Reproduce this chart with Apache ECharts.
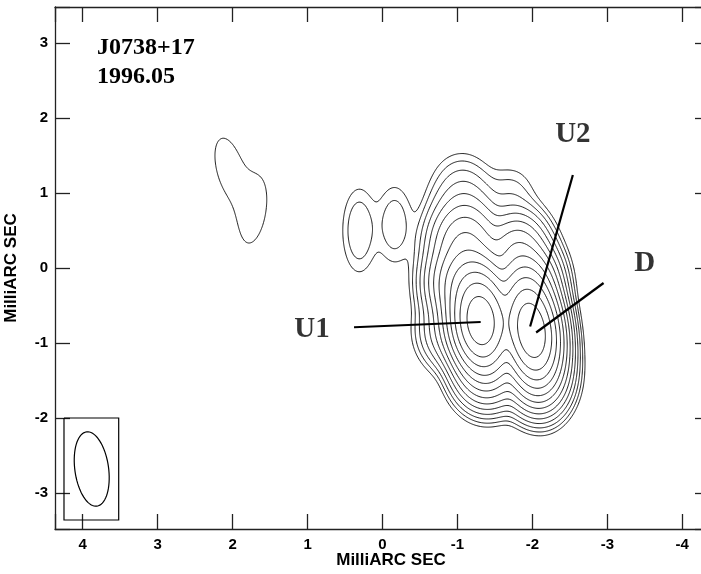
<!DOCTYPE html>
<html>
<head>
<meta charset="utf-8">
<script src="https://cdn.jsdelivr.net/npm/echarts@6/dist/echarts.min.js"></script>
<style>
  html, body { margin: 0; padding: 0; background: #fff; }
  #map { width: 701px; height: 574px; }
</style>
</head>
<body>
<div id="map"></div>
<script>
// axis extent in mas, RA grows to the left
const xRange = [-4.37, 4.37];
const yRange = [-3.48, 3.48];

// contour levels (relative units, doubling)
const levels = [1, 2, 4, 8, 16, 32, 64, 128, 256, 512, 1024, 2048, 4096];

// gaussian components: centre (mas), peak, fwhm major/minor (mas), PA (deg)
const compName = ['U1', 'D', 'N1', 'N2', 'N3', 'N4', 'M1', 'M2', 'M3', 'M4', 'S1', 'S2', 'E1', 'P1', 'P2', 'B1', 'B2'];
const compX    = [-1.31, -1.99, -1.14, -1.10, -1.08, -1.05, -1.92, -1.80, -1.74, -1.70, -1.40, -2.06, -0.98, 0.31, -0.16, 2.04, 1.71];
const compY    = [-0.71, -0.84, -0.20, 0.35, 0.85, 1.25, -0.25, 0.25, 0.72, 1.05, -1.35, -1.45, -0.85, 0.50, 0.58, 1.32, 0.76];
const compPeak = [7000, 7500, 500, 120, 12, 1.5, 450, 100, 3, 1.5, 160, 130, 50, 3.7, 3.3, 1.5, 1.45];
const compMaj  = [0.70, 0.75, 0.60, 0.60, 0.60, 0.50, 0.60, 0.55, 0.60, 0.50, 0.565, 0.565, 0.55, 0.80, 0.75, 1.10, 1.00];
const compMin  = [0.40, 0.38, 0.52, 0.52, 0.52, 0.50, 0.44, 0.45, 0.42, 0.45, 0.47, 0.45, 0.50, 0.32, 0.34, 0.45, 0.36];
const compPa   = [5, 8, 0, 0, 0, 0, 0, 0, 0, 0, 0, 0, 0, 0, 0, 14, -10];

// restoring beam in the lower-left corner
const beamCentre = [3.88, -2.68];
const beamFwhm = [1.0, 0.45];
const beamPa = 8;
const beamBoxX = [4.25, 3.52];
const beamBoxY = [-2.0, -3.36];

// component labels and pointer lines
const labelText = ['U1', 'U2', 'D'];
const labelX = [0.94, -2.54, -3.50];
const labelY = [-0.82, 1.78, 0.06];
const pointerFrom = [[0.38, -0.79], [-2.54, 1.24], [-2.95, -0.20]];
const pointerTo = [[-1.31, -0.72], [-1.97, -0.78], [-2.05, -0.86]];

// ---- brightness grid from the components ----
const step = 0.0125;
const gx0 = -3.4, gx1 = 3.0, gy0 = -3.0, gy1 = 2.4;
const nx = Math.round((gx1 - gx0) / step) + 1;
const ny = Math.round((gy1 - gy0) / step) + 1;
const grid = new Float64Array(nx * ny);
const k4 = 4 * Math.LN2;
compX.forEach((cx, c) => {
  const pa = compPa[c] * Math.PI / 180;
  const s = Math.sin(pa), co = Math.cos(pa);
  const a = k4 / (compMaj[c] * compMaj[c]);
  const b = k4 / (compMin[c] * compMin[c]);
  for (let j = 0; j < ny; j++) {
    const dy = gy0 + j * step - compY[c];
    for (let i = 0; i < nx; i++) {
      const dx = gx0 + i * step - cx;
      const u = dx * s + dy * co;
      const v = dx * co - dy * s;
      const e = a * u * u + b * v * v;
      if (e < 40) grid[j * nx + i] += compPeak[c] * Math.exp(-e);
    }
  }
});

// marching squares, stitched into polylines
function contourPaths(level) {
  const segA = [], segB = [], pos = new Map();
  const edgePoint = (key, i0, j0, i1, j1) => {
    if (!pos.has(key)) {
      const v0 = grid[j0 * nx + i0], v1 = grid[j1 * nx + i1];
      const t = (level - v0) / (v1 - v0);
      pos.set(key, [gx0 + (i0 + t * (i1 - i0)) * step, gy0 + (j0 + t * (j1 - j0)) * step]);
    }
    return key;
  };
  const table = {
    1: [[3, 0]], 2: [[0, 1]], 3: [[3, 1]], 4: [[1, 2]], 6: [[0, 2]], 7: [[2, 3]], 8: [[2, 3]],
    9: [[0, 2]], 11: [[1, 2]], 12: [[3, 1]], 13: [[0, 1]], 14: [[3, 0]]
  };
  for (let j = 0; j < ny - 1; j++) {
    for (let i = 0; i < nx - 1; i++) {
      const va = grid[j * nx + i], vb = grid[j * nx + i + 1];
      const vc = grid[(j + 1) * nx + i + 1], vd = grid[(j + 1) * nx + i];
      const code = (va >= level ? 1 : 0) | (vb >= level ? 2 : 0) | (vc >= level ? 4 : 0) | (vd >= level ? 8 : 0);
      if (code === 0 || code === 15) continue;
      let pairs = table[code];
      if (code === 5 || code === 10) {
        const mid = (va + vb + vc + vd) / 4 >= level;
        if ((code === 5) === mid) pairs = [[0, 1], [2, 3]];
        else pairs = [[3, 0], [1, 2]];
      }
      const edges = [
        () => edgePoint(2 * (j * nx + i), i, j, i + 1, j),
        () => edgePoint(2 * (j * nx + i + 1) + 1, i + 1, j, i + 1, j + 1),
        () => edgePoint(2 * ((j + 1) * nx + i), i, j + 1, i + 1, j + 1),
        () => edgePoint(2 * (j * nx + i) + 1, i, j, i, j + 1)
      ];
      pairs.forEach(p => { segA.push(edges[p[0]]()); segB.push(edges[p[1]]()); });
    }
  }
  const adj = new Map();
  const add = (k, sIdx) => { const l = adj.get(k); if (l) l.push(sIdx); else adj.set(k, [sIdx]); };
  segA.forEach((k, sIdx) => { add(k, sIdx); add(segB[sIdx], sIdx); });
  const used = new Uint8Array(segA.length);
  const paths = [];
  for (let s0 = 0; s0 < segA.length; s0++) {
    if (used[s0]) continue;
    used[s0] = 1;
    const path = [segA[s0], segB[s0]];
    for (let dir = 0; dir < 2; dir++) {
      let end = dir === 0 ? path[path.length - 1] : path[0];
      for (;;) {
        const next = adj.get(end).find(q => !used[q]);
        if (next === undefined) break;
        used[next] = 1;
        const other = segA[next] === end ? segB[next] : segA[next];
        if (dir === 0) path.push(other); else path.unshift(other);
        end = other;
      }
    }
    paths.push(path.map(k => pos.get(k)));
  }
  return paths;
}

const contourData = [];
levels.forEach(lv => contourPaths(lv).forEach(p => contourData.push({ coords: p })));

// beam ellipse and its box
const beamPts = [];
const bpa = beamPa * Math.PI / 180;
for (let t = 0; t <= 72; t++) {
  const ang = t / 72 * 2 * Math.PI;
  const u = beamFwhm[0] / 2 * Math.cos(ang), v = beamFwhm[1] / 2 * Math.sin(ang);
  beamPts.push([beamCentre[0] + u * Math.sin(bpa) + v * Math.cos(bpa), beamCentre[1] + u * Math.cos(bpa) - v * Math.sin(bpa)]);
}
const boxPts = [
  [beamBoxX[0], beamBoxY[0]], [beamBoxX[1], beamBoxY[0]], [beamBoxX[1], beamBoxY[1]],
  [beamBoxX[0], beamBoxY[1]], [beamBoxX[0], beamBoxY[0]]
];

const chart = echarts.init(document.getElementById('map'));
const frame = { color: '#222', width: 1.3 };
const tickFmt = v => (Number.isInteger(v) ? String(v) : '');
const tickFont = { fontFamily: 'Liberation Sans', fontWeight: 'bold', fontSize: 15, color: '#000' };

chart.setOption({
  animation: false,
  backgroundColor: '#fff',
  grid: { left: 55, top: 7, width: 655, height: 522, outerBoundsMode: 'none' },
  xAxis: [
    {
      type: 'value', min: xRange[0], max: xRange[1], inverse: true, minInterval: 1, maxInterval: 1,
      position: 'bottom',
      axisLine: { onZero: false, lineStyle: frame },
      axisTick: { inside: true, length: 15, lineStyle: frame },
      axisLabel: { ...tickFont, margin: 8, formatter: tickFmt },
      splitLine: { show: false }
    },
    {
      type: 'value', min: xRange[0], max: xRange[1], inverse: true, minInterval: 1, maxInterval: 1,
      position: 'top',
      axisLine: { onZero: false, lineStyle: frame },
      axisTick: { inside: true, length: 15, lineStyle: frame },
      axisLabel: { show: false },
      splitLine: { show: false }
    }
  ],
  yAxis: [
    {
      type: 'value', min: yRange[0], max: yRange[1], minInterval: 1, maxInterval: 1,
      position: 'left',
      axisLine: { onZero: false, lineStyle: frame },
      axisTick: { inside: true, length: 15, lineStyle: frame },
      axisLabel: { ...tickFont, margin: 7, formatter: tickFmt },
      splitLine: { show: false }
    },
    {
      type: 'value', min: yRange[0], max: yRange[1], minInterval: 1, maxInterval: 1,
      position: 'right',
      axisLine: { show: false, onZero: false, lineStyle: frame },
      axisTick: { inside: true, length: 15, lineStyle: frame },
      axisLabel: { show: false },
      splitLine: { show: false }
    }
  ],
  graphic: [
    { type: 'text', left: 97, top: 36, style: { text: 'J0738+17', font: 'bold 24px "Liberation Serif"', fill: '#000' } },
    { type: 'text', left: 97, top: 65, style: { text: '1996.05', font: 'bold 24px "Liberation Serif"', fill: '#000' } },
    { type: 'text', x: 391, y: 560, style: { text: 'MilliARC SEC', font: 'bold 17px "Liberation Sans"', fill: '#000', align: 'center', verticalAlign: 'middle' } },
    { type: 'text', x: 11, y: 268, rotation: Math.PI / 2, style: { text: 'MilliARC SEC', font: 'bold 17px "Liberation Sans"', fill: '#000', align: 'center', verticalAlign: 'middle' } }
  ],
  series: [
    {
      type: 'lines', coordinateSystem: 'cartesian2d', polyline: true, silent: true, large: false,
      lineStyle: { color: '#000', width: 0.9, opacity: 1 },
      data: contourData
    },
    {
      type: 'lines', coordinateSystem: 'cartesian2d', polyline: true, silent: true,
      lineStyle: { color: '#000', width: 1.2, opacity: 1 },
      data: [{ coords: beamPts }, { coords: boxPts }]
    },
    {
      type: 'lines', coordinateSystem: 'cartesian2d', silent: true,
      lineStyle: { color: '#000', width: 2.2, opacity: 1 },
      data: pointerFrom.map((f, i) => ({ coords: [f, pointerTo[i]] }))
    },
    {
      type: 'scatter', silent: true, symbolSize: 0,
      data: labelX.map((x, i) => [x, labelY[i]]),
      label: {
        show: true, position: 'inside', formatter: p => labelText[p.dataIndex],
        fontFamily: 'Liberation Serif', fontWeight: 'bold', fontSize: 29, color: '#000'
      }
    }
  ]
});
</script>
</body>
</html>
